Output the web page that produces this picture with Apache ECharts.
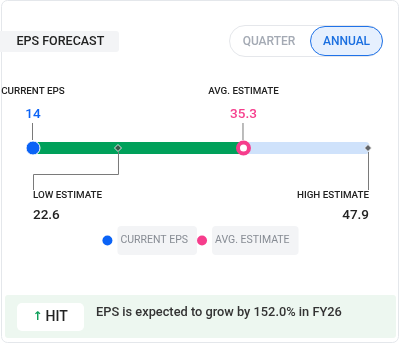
<!DOCTYPE html>
<html><head><meta charset="utf-8">
<script src="https://cdn.jsdelivr.net/npm/echarts@6/dist/echarts.min.js"></script>
<style>html,body{margin:0;padding:0;background:#fff}#c{width:401px;height:344px}</style>
</head><body><div id="c"></div>
<script>
// ---- data ----
const chartTitle = 'EPS FORECAST';
const periodTabs = ['QUARTER', 'ANNUAL'];
const activeTab = 'ANNUAL';
const currentEps = 14;
const lowEstimate = 22.6;
const avgEstimate = 35.3;
const highEstimate = 47.9;
const markerLabels = ['CURRENT EPS', 'LOW ESTIMATE', 'AVG. ESTIMATE', 'HIGH ESTIMATE'];
const markerValues = [currentEps, lowEstimate, avgEstimate, highEstimate];
const legendNames = ['CURRENT EPS', 'AVG. ESTIMATE'];
const growthPct = 152.0;
const fiscalYear = 'FY26';
const verdict = 'HIT';

// ---- styles ----
const FONT = 'Roboto, "Noto Sans", sans-serif';
const BLUE = '#0b63f6';
const PINK = '#f63d8c';
const GREEN = '#00a05a';
const LIGHT = '#cfe2fb';
const DARK = '#222';
const LINE = '#7a7a7a';

const chart = echarts.init(document.getElementById('c'), null, {renderer: 'canvas'});

function annotate(params, api) {
  const i = params.dataIndex;
  const v = api.value(0);
  const c = api.coord([v, 0.5]);
  const start = api.coord([currentEps, 0.5]);
  const children = [];
  const labelFont = {fontSize: 9.8, fontFamily: FONT, fontWeight: 500};
  const valueFont = {fontSize: 13.5, fontFamily: FONT, fontWeight: 500};
  if (i === 0 || i === 2) {
    const col = i === 0 ? BLUE : PINK;
    children.push({type: 'line', shape: {x1: c[0] - 0.5, y1: c[1] - 25, x2: c[0] - 0.5, y2: c[1] - 8}, style: {stroke: LINE, lineWidth: 1}});
    children.push({type: 'text', style: Object.assign({text: markerLabels[i], x: c[0], y: c[1] - 56, align: 'center', verticalAlign: 'middle', fill: DARK}, labelFont)});
    children.push({type: 'text', style: Object.assign({text: String(markerValues[i]), x: c[0], y: c[1] - 33, align: 'center', verticalAlign: 'middle', fill: col}, valueFont)});
  } else if (i === 1) {
    const x0 = start[0];
    children.push({type: 'polyline', shape: {points: [[c[0] + 0.5, c[1] + 4], [c[0] + 0.5, c[1] + 26.5], [x0 + 0.5, c[1] + 26.5], [x0 + 0.5, c[1] + 42]]}, style: {stroke: LINE, lineWidth: 1, fill: null}});
    children.push({type: 'text', style: Object.assign({text: markerLabels[i], x: x0, y: c[1] + 48, align: 'left', verticalAlign: 'middle', fill: DARK}, labelFont)});
    children.push({type: 'text', style: Object.assign({text: String(markerValues[i]), x: x0, y: c[1] + 68, align: 'left', verticalAlign: 'middle', fill: DARK}, valueFont)});
  } else {
    children.push({type: 'line', shape: {x1: c[0] + 0.5, y1: c[1] + 4, x2: c[0] + 0.5, y2: c[1] + 42}, style: {stroke: LINE, lineWidth: 1}});
    children.push({type: 'text', style: Object.assign({text: markerLabels[i], x: c[0] + 1, y: c[1] + 48, align: 'right', verticalAlign: 'middle', fill: DARK}, labelFont)});
    children.push({type: 'text', style: Object.assign({text: String(markerValues[i]), x: c[0] + 1, y: c[1] + 68, align: 'right', verticalAlign: 'middle', fill: DARK}, valueFont)});
  }
  return {type: 'group', children: children};
}

function rangeBar(params, api) {
  const s = api.coord([api.value(0), 0.5]);
  const e = api.coord([api.value(1), 0.5]);
  const last = params.dataIndex === 1;
  return {
    type: 'rect',
    shape: {x: s[0], y: s[1] - 6, width: e[0] - s[0] + (last ? 1.5 : 0), height: 12, r: last ? [0, 4, 4, 0] : 0},
    style: {fill: last ? LIGHT : GREEN}
  };
}

const option = {
  animation: false,
  grid: {left: 33, right: 33, top: 140, height: 16},
  xAxis: {type: 'value', min: currentEps, max: highEstimate, show: false},
  yAxis: {type: 'value', min: 0, max: 1, show: false},
  legend: {
    data: [{name: legendNames[0], itemStyle: {color: BLUE, borderWidth: 0}}, {name: legendNames[1], itemStyle: {color: PINK, borderWidth: 0}}],
    left: 'center', top: 226, padding: 0, icon: 'circle', itemWidth: 10, itemHeight: 10, itemGap: 0,
    selectedMode: false,
    textStyle: {color: '#878c94', fontSize: 10.5, fontFamily: FONT, backgroundColor: '#f3f4f6', borderRadius: 4, padding: [9, 9, 9, 3]}
  },
  graphic: [
    {type: 'rect', shape: {x: 1.5, y: 0.5, width: 397, height: 342, r: 6}, style: {fill: '#fff', stroke: '#e4e7eb', lineWidth: 1}, z: -10},
    {type: 'rect', shape: {x: 0, y: 31, width: 119, height: 21, r: [0, 3, 3, 0]}, style: {fill: '#f3f4f6'}, z: -5},
    {type: 'text', style: {text: chartTitle, x: 16.5, y: 42, verticalAlign: 'middle', fill: DARK, fontSize: 12.5, fontWeight: 500, fontFamily: FONT}},
    {type: 'rect', shape: {x: 229.5, y: 25.5, width: 153, height: 31, r: 15.5}, style: {fill: '#fff', stroke: '#e5e7eb', lineWidth: 1}, z: -5},
    {type: 'rect', shape: {x: 310.5, y: 26.5, width: 72, height: 29, r: 14.5}, style: {fill: '#e6f0fe', stroke: '#1f72e8', lineWidth: 1}, z: -4},
    {type: 'text', style: {text: periodTabs[0], x: 269, y: 42, align: 'center', verticalAlign: 'middle', fill: activeTab === periodTabs[0] ? '#1a6fe0' : '#a4aab4', fontSize: 12, fontWeight: 500, fontFamily: FONT}},
    {type: 'text', style: {text: periodTabs[1], x: 346.5, y: 42, align: 'center', verticalAlign: 'middle', fill: activeTab === periodTabs[1] ? '#1a6fe0' : '#a4aab4', fontSize: 12, fontWeight: 500, fontFamily: FONT}},
    {type: 'rect', shape: {x: 5, y: 295, width: 391, height: 43, r: 3}, style: {fill: '#edf7f0'}, z: -5},
    {type: 'rect', shape: {x: 17, y: 303, width: 67, height: 28, r: 5}, style: {fill: '#fff'}, z: -4},
    {type: 'text', style: {text: '↑', x: 37.5, y: 316.5, align: 'center', verticalAlign: 'middle', fill: '#0e9f5a', fontSize: 12, fontWeight: 700, fontFamily: '"DejaVu Sans", sans-serif'}},
    {type: 'text', style: {text: verdict, x: 45.5, y: 317, verticalAlign: 'middle', fill: DARK, fontSize: 14, fontWeight: 500, fontFamily: FONT}},
    {type: 'text', style: {text: 'EPS is expected to grow by ' + growthPct.toFixed(1) + '% in ' + fiscalYear, x: 96, y: 312.5, verticalAlign: 'middle', fill: '#333', fontSize: 12.8, fontWeight: 500, fontFamily: FONT}}
  ],
  series: [
    {type: 'custom', renderItem: rangeBar, data: [[currentEps, avgEstimate], [avgEstimate, highEstimate]], z: 1, silent: true},
    {type: 'custom', renderItem: annotate, data: markerValues.map((v, i) => [v, i]), z: 2, silent: true},
    {name: markerLabels[1], type: 'scatter', data: [[lowEstimate, 0.5]], symbol: 'diamond', symbolSize: 7, itemStyle: {color: '#454545', borderColor: '#fff', borderWidth: 1}, z: 3},
    {name: markerLabels[3], type: 'scatter', data: [[highEstimate, 0.5]], symbol: 'diamond', symbolSize: 7, itemStyle: {color: '#454545', borderColor: '#fff', borderWidth: 1}, z: 3},
    {name: legendNames[0], type: 'scatter', data: [[currentEps, 0.5]], symbol: 'circle', symbolSize: 14, itemStyle: {color: BLUE, borderColor: '#fff', borderWidth: 1, opacity: 1}, z: 4},
    {name: legendNames[1], type: 'scatter', data: [[avgEstimate, 0.5]], symbol: 'circle', symbolSize: 11, itemStyle: {color: '#fff', borderColor: PINK, borderWidth: 4, opacity: 1}, z: 4}
  ]
};
chart.setOption(option);
</script>
</body></html>
